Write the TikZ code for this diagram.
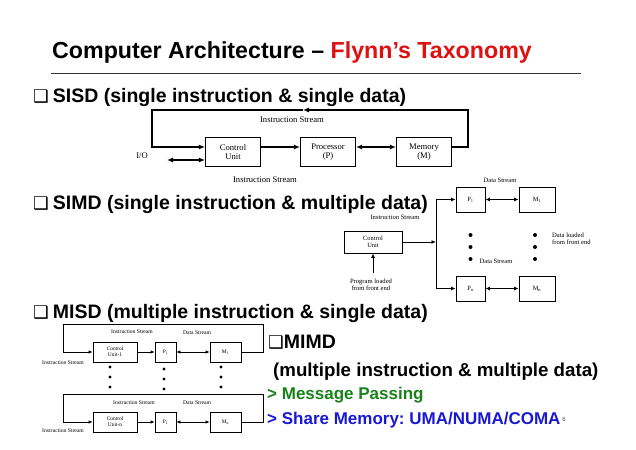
\documentclass[tikz,border=0pt]{standalone}
\usepackage{fontspec}
\setmainfont{Liberation Sans}
\newfontfamily\tms{Liberation Serif}
\newfontfamily\djv{DejaVu Sans}
\usetikzlibrary{arrows.meta}
\definecolor{ttlred}{RGB}{222,16,16}
\definecolor{mpgreen}{RGB}{25,130,25}
\definecolor{smblue}{RGB}{25,25,210}
\newcommand{\qbox}{{\djv\fontsize{17.5}{17.5}\selectfont ❑}}
\frenchspacing
\begin{document}
\begin{tikzpicture}[x=1pt,y=-1pt,
  hd/.style={anchor=base west, inner sep=0, font=\bfseries\fontsize{19.5}{22}\selectfont},
  lbla/.style={inner sep=0, align=center, font=\tms\fontsize{8.6}{9.6}\selectfont},
  lblb/.style={inner sep=0, align=center, font=\tms\fontsize{6.6}{7.4}\selectfont},
  lblc/.style={inner sep=0, align=center, font=\tms\fontsize{5.6}{6.3}\selectfont},
  boxa/.style={draw, line width=1.1pt, minimum width=55pt, minimum height=29pt, inner sep=0, align=center, font=\tms\fontsize{8.6}{9.6}\selectfont},
  boxb/.style={draw, line width=0.9pt, inner sep=0, align=center, font=\tms\fontsize{6.4}{7.2}\selectfont},
  boxc/.style={draw, line width=0.8pt, minimum height=20pt, inner sep=0, align=center, font=\tms\fontsize{5.4}{6.0}\selectfont},
  arra/.style={line width=1.1pt, -{Latex[length=6pt,width=5pt]}},
  arrab/.style={line width=1.1pt, {Latex[length=6pt,width=5pt]}-{Latex[length=6pt,width=5pt]}},
  arrb/.style={line width=0.9pt, -{Latex[length=4.5pt,width=4pt]}},
  arrbb/.style={line width=0.9pt, {Latex[length=4.5pt,width=4pt]}-{Latex[length=4.5pt,width=4pt]}},
  arrc/.style={line width=0.8pt, -{Latex[length=4pt,width=3.5pt]}},
  arrcb/.style={line width=0.8pt, {Latex[length=4pt,width=3.5pt]}-{Latex[length=4pt,width=3.5pt]}},
  dot/.style={fill=black}
]
\useasboundingbox[fill=white] (0,0) rectangle (636,449);

% Title
\node[anchor=base west, inner sep=0, font=\bfseries\fontsize{23.2}{26}\selectfont] (title) at (52,58.5)
  {Computer Architecture – \textcolor{ttlred}{Flynn’s Taxonomy}};
\coordinate (rl) at (51,73);
\coordinate (rr) at (581,73);
\draw[line width=0.8pt, black!80] (rl) -- (rr);

% Headings
\node[hd] (h1) at (33,103) {\qbox\hspace{4pt}SISD (single instruction \& single data)};
\node[hd] (h2) at (33,209) {\qbox\hspace{4pt}SIMD (single instruction \& multiple data)};
\node[hd] (h3) at (33,318) {\qbox\hspace{4pt}MISD (multiple instruction \& single data)};

% ---------- SISD ----------
\node[boxa] (cu) at (233,152) {Control\\Unit};
\node[boxa] (pr) at (328,152) {Processor\\(P)};
\node[boxa] (mem) at (424,152) {Memory\\(M)};
\coordinate (sA) at (152,147);
\coordinate (sB) at (152,110);
\coordinate (sC) at (303,110);
\coordinate (sD) at (468,110);
\coordinate (sE) at (468,147);
\coordinate (sIO) at (167,160);
\draw[arra] (mem.east |- sE) -- (sE) -- (sD) -- (sC);
\draw[arra] (sC) -- (sB) -- (sA) -- (cu.west |- sA);
\draw[arra] (cu.east |- sA) -- (pr.west |- sA);
\draw[arrab] (pr.east |- sA) -- (mem.west |- sA);
\draw[arrab] (sIO) -- (cu.west |- sIO);
\node[lbla] (io) at (142,156) {I/O};
\node[lbla] (is1) at (292,120) {Instruction Stream};
\node[lbla] (is2) at (265,180) {Instruction Stream};

% ---------- SIMD ----------
\node[boxb, minimum width=58pt, minimum height=22pt] (scu) at (373,242) {Control\\Unit};
\node[boxb, minimum width=29pt, minimum height=25pt] (p1) at (470.5,199.5) {P\textsubscript{1}};
\node[boxb, minimum width=36pt, minimum height=25pt] (m1) at (537,199.5) {M\textsubscript{1}};
\node[boxb, minimum width=29pt, minimum height=25pt] (pn) at (470.5,288.5) {P\textsubscript{n}};
\node[boxb, minimum width=36pt, minimum height=25pt] (mn) at (537,288.5) {M\textsubscript{n}};
\coordinate (sv0) at (436,242);
\coordinate (sv1) at (436,199.5);
\coordinate (sv2) at (436,288.5);
\coordinate (prog) at (373,273);
\draw[arrb] (scu.east) -- (sv0);
\draw[arrb] (sv0) -- (sv1) -- (p1.west);
\draw[arrb] (sv0) -- (sv2) -- (pn.west);
\draw[arrbb] (p1) -- (m1);
\draw[arrbb] (pn) -- (mn);
\draw[arrb] (prog) -- (scu.south);
\foreach \yy in {235,247,259} {
  \fill[dot] (470.5,\yy) circle (2pt);
  \fill[dot] (535,\yy) circle (2pt);
}
\node[lblb] (sis) at (395,217) {Instruction Stream};
\node[lblb] (sds1) at (500,180) {Data Stream};
\node[lblb] (sds2) at (496,261) {Data Stream};
\node[lblb, anchor=west, align=left] (sdl) at (552,239) {Data loaded\\from front end};
\node[lblb] (spl) at (371,285) {Program loaded\\from front end};

% ---------- MISD ----------
\node[boxc, minimum width=44pt] (cu1) at (115,352) {Control\\Unit-1};
\node[boxc, minimum width=21pt] (mp1) at (165.5,352) {P\textsubscript{1}};
\node[boxc, minimum width=31pt] (mm1) at (225.5,352) {M\textsubscript{1}};
\coordinate (ta) at (63,352);
\coordinate (tb) at (63,324);
\coordinate (tc) at (263,324);
\coordinate (td) at (263,352);
\draw[arrc] (mm1.east) -- (td) -- (tc) -- (tb) -- (ta) -- (cu1.west);
\draw[arrc] (cu1) -- (mp1);
\draw[arrcb] (mp1) -- (mm1);
\node[lblc] (mis1) at (132,332) {Instruction Stream};
\node[lblc] (mds1) at (197,333) {Data Stream};
\node[lblc] (mis2) at (63,363) {Instruction Stream};

\node[boxc, minimum width=44pt] (cun) at (115,422) {Control\\Unit-n};
\node[boxc, minimum width=21pt] (mpn) at (165.5,422) {P\textsubscript{1}};
\node[boxc, minimum width=31pt] (mmn) at (225.5,422) {M\textsubscript{n}};
\coordinate (ba) at (63,422);
\coordinate (bb) at (63,394);
\coordinate (bc) at (263,394);
\coordinate (bd) at (263,422);
\draw[arrc] (mmn.east) -- (bd) -- (bc) -- (bb) -- (ba) -- (cun.west);
\draw[arrc] (cun) -- (mpn);
\draw[arrcb] (mpn) -- (mmn);
\node[lblc] (mis3) at (134,403) {Instruction Stream};
\node[lblc] (mds3) at (197,403) {Data Stream};
\node[lblc] (mis4) at (63,431) {Instruction Stream};

\foreach \yy in {367,377,387} {
  \fill[dot] (110,\yy) circle (1.6pt);
  \fill[dot] (221,\yy) circle (1.6pt);
}
\foreach \yy in {369,379,389} {
  \fill[dot] (164,\yy) circle (1.6pt);
}

% ---------- MIMD ----------
\node[hd] (h4) at (268,348) {\qbox MIMD};
\node[anchor=base west, inner sep=0, font=\bfseries\fontsize{18.7}{22}\selectfont] (h4b) at (273,376)
  {(multiple instruction \& multiple data)};
\node[anchor=base west, inner sep=0, text=mpgreen, font=\bfseries\fontsize{17}{20}\selectfont] (mp) at (267,399)
  {> Message Passing};
\node[anchor=base west, inner sep=0, text=smblue, font=\bfseries\fontsize{17}{20}\selectfont] (sm) at (267,424)
  {> Share Memory: UMA/NUMA/COMA};
\node[anchor=center, inner sep=0, text=black!70, font=\fontsize{6}{6}\selectfont] (pg) at (564,419) {6};
\end{tikzpicture}
\end{document}
